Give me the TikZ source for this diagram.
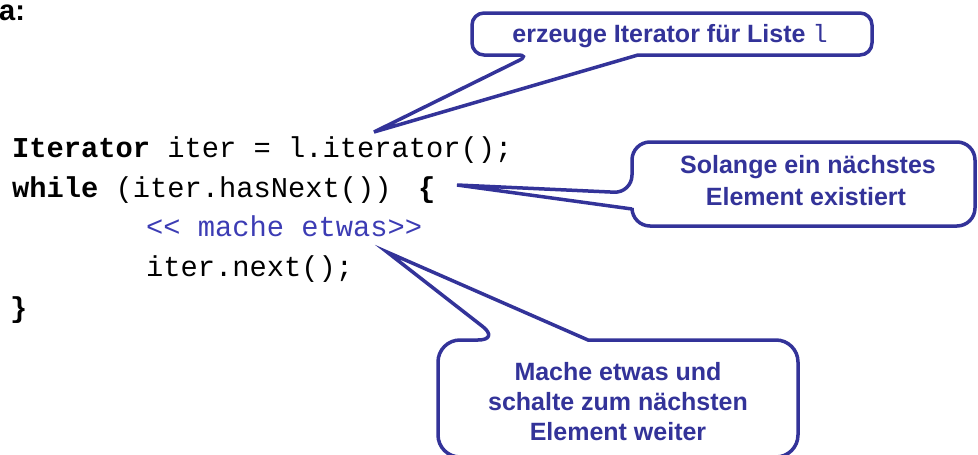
\documentclass[tikz,border=0pt]{standalone}
\usepackage{fontspec}
\setmainfont{Liberation Sans}
\setmonofont{Liberation Mono}
\definecolor{cblue}{HTML}{333399}
\definecolor{mblue}{HTML}{3C3CB4}
\begin{document}
\begin{tikzpicture}[x=1pt,y=-1pt,
  bubble/.style={draw=cblue,line width=3.5pt,fill=white,line join=miter},
  btext/.style={anchor=base,text=cblue,font=\bfseries\fontsize{25}{31}\selectfont,inner sep=0pt},
  codeline/.style={anchor=base west,inner sep=0pt,font=\ttfamily\fontsize{28.75}{34}\selectfont},
  codebrace/.style={anchor=base west,inner sep=0pt,font=\ttfamily\bfseries\fontsize{28.75}{34}\selectfont}]
\useasboundingbox (0,0) rectangle (978,455);

% heading fragment
\node[anchor=base west,inner sep=0pt,font=\bfseries\fontsize{29}{34}\selectfont] (hd) at (-1,20) {a:};

% code
\node[codeline] (l1) at (12,157) {\textbf{Iterator} iter = l.iterator();};
\node[codeline] (l2) at (12,197) {\textbf{while} (iter.hasNext())};
\node[codebrace] (ob) at (418,197) {\{};
\node[codeline,text=mblue] (l3) at (146,236) {<< mache etwas>>};
\node[codeline] (l4) at (146,276) {iter.next();};
\node[codebrace] (cb) at (10,317) {\}};

% callout tips
\coordinate (t1) at (374,132);
\coordinate (t2) at (457,185);
\coordinate (t3) at (387,252);

% callout 1
\draw[bubble] (700,55) [rounded corners=12pt] -- (872,55) -- (872,13) -- (472,13) -- (472,55) -- (530,55) [sharp corners] -- (t1) -- (638,55) -- cycle;
\node[btext] (c1) at (670,42) {erzeuge Iterator für Liste {\ttfamily\mdseries l}};

% callout 2
\draw[bubble] (800,142) [rounded corners=18pt] -- (632,142) -- (632,193) [sharp corners] -- (t2) -- (632,209) [rounded corners=18pt] -- (632,226) -- (975,226) -- (975,142) -- cycle;
\node[btext] (c2a) at (808,173) {Solange ein nächstes};
\node[btext] (c2b) at (806,205) {Element existiert};

% callout 3
\draw[bubble] (700,340) [rounded corners=22pt] -- (798,340) -- (798,457) -- (438,457) -- (438,340) -- (500,340) [sharp corners] -- (t3) -- (588,340) -- cycle;
\node[btext] (c3a) at (618,380) {Mache etwas und};
\node[btext] (c3b) at (618,410) {schalte zum nächsten};
\node[btext] (c3c) at (618,440) {Element weiter};
\end{tikzpicture}
\end{document}
